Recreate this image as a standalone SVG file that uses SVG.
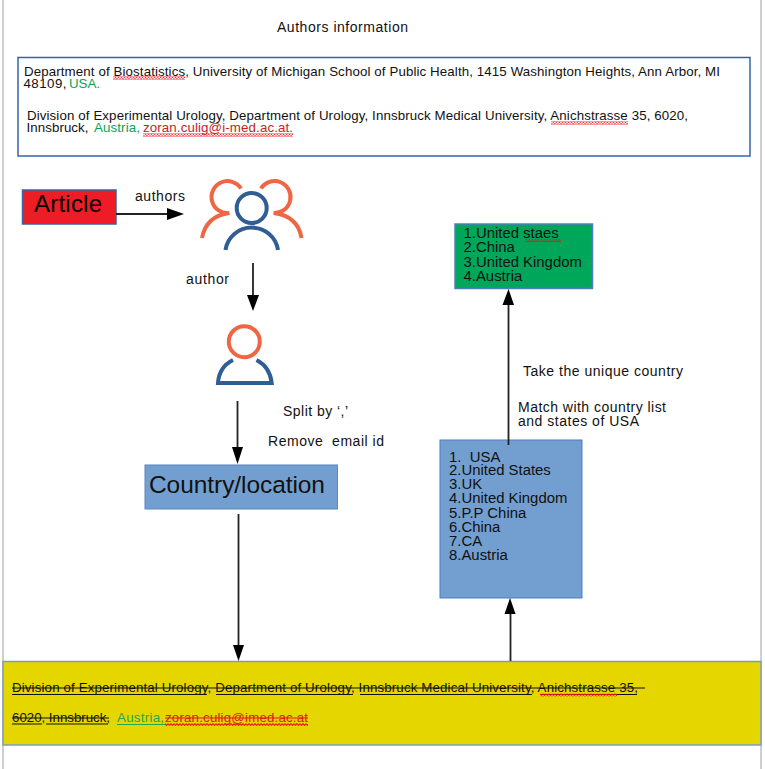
<svg xmlns="http://www.w3.org/2000/svg" width="765" height="769" viewBox="0 0 765 769">
<style>
text{font-family:"Liberation Sans",Arial,sans-serif;fill:#111}
.s{font-size:13.300px}.m{font-size:14px}.l{font-size:14.900px}.b{font-size:24.500px}
.g{fill:#00a65a}.r{fill:#c9211e}.gy{fill:#1fa84f}
.box{stroke:#3465a4;stroke-width:1.5}
.o{fill:none;stroke:#ee6644;stroke-width:4}
.n{fill:none;stroke:#2f5d94;stroke-width:4}
.c{stroke:#222;stroke-width:1.8;fill:none}
.h{fill:#000;stroke:none}
.st{stroke:#111;stroke-width:1.2}
</style>
<defs>
<pattern id="sq" width="6" height="3" patternUnits="userSpaceOnUse"><path d="M0 .7L1.500 2.300L3 .7L4.500 2.300L6 .7" fill="none" stroke="#f0141c" stroke-width="1.200"/></pattern>
</defs>
<rect width="765" height="769" fill="#fff"/>
<g id="page-edges"><rect x="2" y="0" width="2" height="769" fill="#cfcfcf"/><rect x="760" y="0" width="2" height="769" fill="#cfcfcf"/></g>
<g id="title"><text x="277" y="32" font-size="14" textLength="131">Authors information</text></g>
<g id="authors-info">
<rect class="box" x="18" y="57.500" width="732" height="98.500" fill="#fff"/>
<text class="s" x="24" y="76" textLength="696">Department of Biostatistics, University of Michigan School of Public Health, 1415 Washington Heights, Ann Arbor, MI</text>
<text class="s" x="23.500" y="88" textLength="43">48109,</text><text class="s g" x="69" y="88" textLength="31">USA.</text>
<text class="s" x="27" y="120" textLength="661">Division of Experimental Urology, Department of Urology, Innsbruck Medical University, Anichstrasse 35, 6020,</text>
<text class="s" x="26.500" y="132" textLength="62">Innsbruck,</text><text class="s g" x="94" y="132" textLength="46">Austria,</text><text class="s r" x="143" y="132" textLength="150">zoran.culig@i-med.ac.at.</text>
<rect x="113" y="76.500" width="72" height="3" fill="url(#sq)"/><rect x="551" y="121.500" width="77" height="3" fill="url(#sq)"/><rect x="143" y="133.500" width="150" height="3" fill="url(#sq)"/>
</g>
<g id="article"><rect x="22.500" y="190" width="93.500" height="34" fill="#ee1c25" class="box"/><text x="34" y="212" font-size="24" textLength="68" style="fill:#000">Article</text></g>
<g id="authors-icon">
<path class="o" d="M241 188.500A16 16 0 1 0 229.500 213Q206 216 202 238"/>
<path class="o" d="M261 188.500A16 16 0 1 1 273.500 213Q298 216 301.500 238"/>
<circle class="n" cx="251.700" cy="208" r="15"/>
<path class="n" d="M225.500 250A26.500 26 0 0 1 278 250"/>
</g>
<g id="author-icon">
<circle class="o" cx="244.300" cy="341.700" r="15.500"/>
<path class="n" d="M233 360Q219 367 218 383H271.700Q270 367 256.500 360"/>
</g>
<g id="country-location"><rect x="145" y="465" width="192.500" height="44" fill="#729fcf" stroke="#5b88c0"/><text class="b" x="149" y="493" textLength="176">Country/location</text></g>
<g id="country-list"><rect x="440" y="440" width="142" height="158" fill="#729fcf" stroke="#4f7fbd"/>
<text class="l" x="449" y="462" xml:space="preserve">1.  USA</text><text class="l" x="449" y="475">2.United States</text><text class="l" x="449" y="489">3.UK</text><text class="l" x="449" y="503">4.United Kingdom</text><text class="l" x="449" y="518">5.P.P China</text><text class="l" x="449" y="532">6.China</text><text class="l" x="449" y="546">7.CA</text><text class="l" x="449" y="560">8.Austria</text></g>
<g id="unique-list"><rect x="455" y="224" width="137.500" height="64.500" fill="#00a65a" stroke="#4f7fbd" stroke-width="1.500"/>
<text class="l" x="463.500" y="238">1.United staes</text><text class="l" x="463.500" y="252">2.China</text><text class="l" x="463.500" y="267">3.United Kingdom</text><text class="l" x="463.500" y="281">4.Austria</text>
<rect x="525" y="239" width="36" height="3" fill="url(#sq)"/></g>
<g id="cleaned-text"><rect x="3" y="661.500" width="758" height="83.500" fill="#e6d600" stroke="#7c9cbc" stroke-width="1.500"/>
<text class="s" x="12" y="692" textLength="626">Division of Experimental Urology, Department of Urology, Innsbruck Medical University, Anichstrasse 35,</text>
<text class="s" x="12" y="722" textLength="98">6020, Innsbruck,</text><text class="s gy" x="117" y="722" textLength="47">Austria,</text><text class="s r" x="165" y="722" textLength="143" style="fill:#d8201c">zoran.culig@imed.ac.at</text>
<path class="st" d="M12 688H645M12 718H109"/><path d="M165 718H308" stroke="#e8141c" stroke-width="1.200"/>
<path class="st" d="M12 694.500H207M216 694.500H353M360 694.500H532M540 694.500H637M12 724H42M46 724H108"/>
<path d="M117 724.500H165" stroke="#1fa84f" stroke-width="1.200"/>
<rect x="165" y="723" width="143" height="3" fill="url(#sq)"/><rect x="540" y="693.500" width="77" height="3" fill="url(#sq)"/>
</g>
<g id="labels">
<text class="m" x="135" y="201" textLength="50">authors</text>
<text class="m" x="186" y="284" textLength="43">author</text>
<text class="m" x="283" y="416" textLength="65">Split by ‘,’</text>
<text class="m" x="268" y="446" textLength="116" xml:space="preserve">Remove  email id</text>
<text class="m" x="523" y="376" textLength="160">Take the unique country</text>
<text class="m" x="518" y="412" textLength="148">Match with country list</text>
<text class="m" x="518" y="426" textLength="121">and states of USA</text>
</g>
<g id="connectors">
<path class="c" d="M116 214H170"/><path class="h" d="M184 214L167 208V220Z"/>
<path class="c" d="M253 263V297"/><path class="h" d="M253 311L247 295H259Z"/>
<path class="c" d="M237.500 401V449"/><path class="h" d="M237.500 464L232 447H243Z"/>
<path class="c" d="M238.500 514V647"/><path class="h" d="M238.500 661L233 645H244Z"/>
<path class="c" d="M510.500 661V612"/><path class="h" d="M510 598L504.500 614H515.500Z"/>
<path class="c" d="M508.500 445V303"/><path class="h" d="M508.500 289L502.500 305H514Z"/>
</g>
</svg>
